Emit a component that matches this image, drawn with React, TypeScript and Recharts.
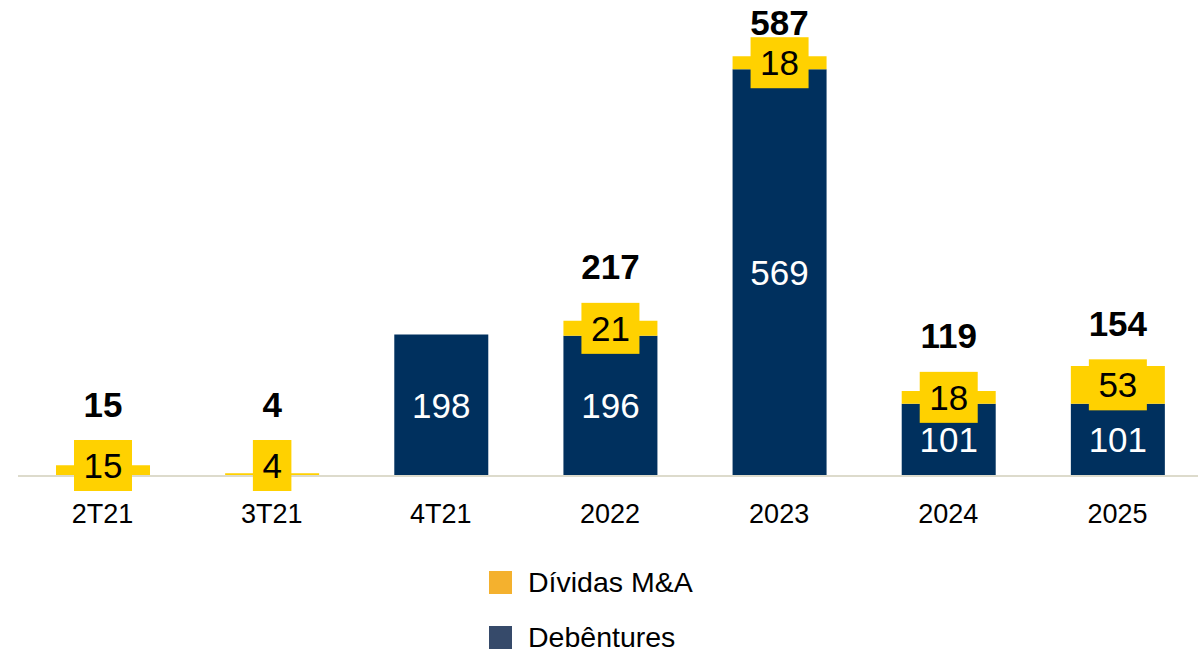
import { BarChart, Bar, XAxis, YAxis, Legend, LabelList } from 'recharts';

// dados lidos do gráfico (R$ milhões)
const categorias = ['2T21', '3T21', '4T21', '2022', '2023', '2024', '2025'];
const debentures = [0, 0, 198, 196, 569, 101, 101];
const dividasMA = [15, 4, 0, 21, 18, 18, 53];

const dados = categorias.map((cat, i) => ({
  cat,
  deb: debentures[i],
  ma: dividasMA[i],
  total: debentures[i] + dividasMA[i],
}));

const AZUL = '#00305E';
const AMARELO = '#FFD100';
const FONTE = "Arial, 'Liberation Sans', sans-serif";
const TAM = 35;

const LARGURA = 1202;
const ALTURA = 653;
const MARGEM = { top: 47, right: 0, left: 18, bottom: 137 };
const ALTURA_EIXO_X = 40;
const EIXO_Y = ALTURA - MARGEM.bottom - ALTURA_EIXO_X; // 476

const itensLegenda = [
  { nome: 'Dívidas M&A', cor: '#F4B12E' },
  { nome: 'Debêntures', cor: '#364A6A' },
];

const caixa = (props: any) => {
  const vb = props.viewBox || props;
  const x = vb.x;
  const width = vb.width;
  const h = Math.abs(vb.height);
  const y = vb.height < 0 ? vb.y + vb.height : vb.y;
  return { x, y, width, h };
};

// centro da caixa amarela (não desce abaixo do eixo)
const centroCaixa = (y: number, h: number) => Math.min(y + h / 2, EIXO_Y - 10.5);

const RotuloMA = (props: any) => {
  const { value } = props;
  if (!value) return null;
  const { x, y, width, h } = caixa(props);
  const cx = x + width / 2;
  const meio = centroCaixa(y, h);
  const larg = String(value).length * 19.5 + 19;
  return (
    <g>
      <rect x={cx - larg / 2} y={meio - 25.5} width={larg} height={51} fill={AMARELO} />
      <text x={cx} y={meio} dy={12.5} textAnchor="middle" fontSize={TAM} fontFamily={FONTE} fill="#000">
        {value}
      </text>
    </g>
  );
};

const RotuloTotal = (props: any) => {
  const { value } = props;
  const { x, y, width, h } = caixa(props);
  if (!value || h === 0) return null;
  const topo = centroCaixa(y, h) - 25.5;
  return (
    <text
      x={x + width / 2}
      y={Math.max(topo - 36, 22)}
      dy={12.5}
      textAnchor="middle"
      fontSize={TAM}
      fontWeight="bold"
      fontFamily={FONTE}
      fill="#000"
    >
      {value}
    </text>
  );
};

const RotuloDeb = (props: any) => {
  const { value } = props;
  if (!value) return null;
  const { x, y, width, h } = caixa(props);
  return (
    <text x={x + width / 2} y={y + h / 2} dy={12.5} textAnchor="middle" fontSize={TAM} fontFamily={FONTE} fill="#fff">
      {value}
    </text>
  );
};

const TickX = ({ x, y, payload }: any) => (
  <text x={x} y={y} dy={47} textAnchor="middle" fontSize={27} fontFamily={FONTE} fill="#000">
    {payload.value}
  </text>
);

const LegendaVertical = () => (
  <div style={{ fontFamily: FONTE, fontSize: 28.5, lineHeight: 1, color: '#000' }}>
    {itensLegenda.map((item) => (
      <div key={item.nome} style={{ display: 'flex', alignItems: 'center', height: 23, marginBottom: 32, whiteSpace: 'nowrap' }}>
        <span style={{ width: 23, height: 23, background: item.cor, display: 'inline-block', marginRight: 16 }} />
        <span>{item.nome}</span>
      </div>
    ))}
  </div>
);

export default function App() {
  return (
    <div style={{ position: 'fixed', left: 0, top: 0, width: 1198, height: 653, overflow: 'hidden', background: '#fff' }}>
      <BarChart width={LARGURA} height={ALTURA} data={dados} margin={MARGEM} barSize={94}>
        <XAxis
          dataKey="cat"
          height={ALTURA_EIXO_X}
          interval={0}
          tickLine={false}
          tickSize={0}
          tickMargin={0}
          axisLine={{ stroke: '#DDDBCC', strokeWidth: 2 }}
          tick={<TickX />}
        />
        <YAxis hide domain={[0, 600]} />
        <Legend
          layout="vertical"
          align="center"
          verticalAlign="middle"
          wrapperStyle={{ left: 489, top: 571, width: 320, height: 78 }}
          content={<LegendaVertical />}
        />
        <Bar dataKey="deb" name="Debêntures" stackId="a" fill={AZUL} isAnimationActive={false}>
          <LabelList dataKey="deb" content={RotuloDeb} />
        </Bar>
        <Bar dataKey="ma" name="Dívidas M&A" stackId="a" fill={AMARELO} isAnimationActive={false}>
          <LabelList dataKey="ma" content={RotuloMA} />
          <LabelList dataKey="total" content={RotuloTotal} />
        </Bar>
      </BarChart>
    </div>
  );
}
